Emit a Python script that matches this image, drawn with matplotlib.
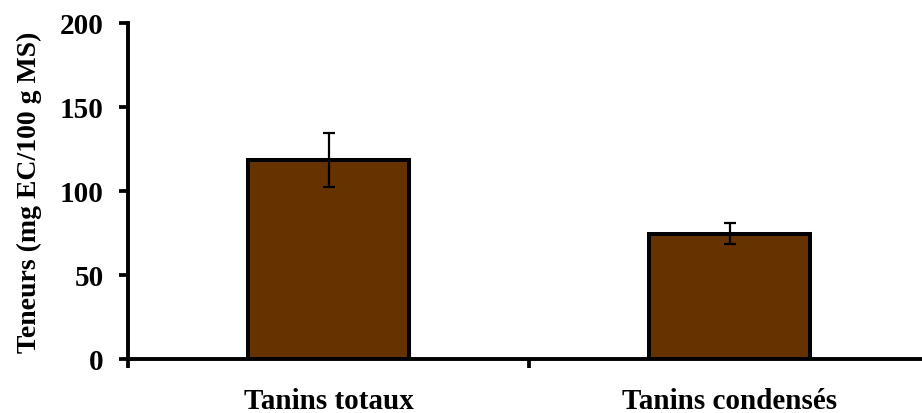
import matplotlib.pyplot as plt
import numpy as np

# données
categories = ["Tanins totaux", "Tanins condensés"]
teneurs = [118.5, 74.7]
erreurs = [16.3, 6.4]

plt.rcParams['font.family'] = ['Liberation Serif', 'DejaVu Serif']
plt.rcParams['font.weight'] = 'bold'

fig = plt.figure(figsize=(9.22, 4.14), dpi=100)
ax = fig.add_axes([128 / 922, 54 / 414, 802 / 922, 336 / 414])

x = np.arange(len(categories))
ax.bar(x, teneurs, width=0.4, color='#663300', edgecolor='black', linewidth=2.9,
       yerr=erreurs, capsize=4.5, error_kw={'elinewidth': 1.6, 'capthick': 1.6, 'ecolor': 'black'},
       zorder=2)

ax.set_xlim(-0.5, 1.5)
ax.set_ylim(0, 200)
ax.set_yticks([0, 50, 100, 150, 200])
ax.set_xticks(x)
ax.set_xticklabels(categories, fontsize=21, fontweight='bold')
ax.set_xticks([-0.5, 0.5, 1.5], minor=True)
ax.tick_params(axis='x', which='major', length=0, pad=20)
ax.tick_params(axis='x', which='minor', length=6.5, width=2.7, direction='out')
ax.tick_params(axis='y', length=6.5, width=2.7, direction='out', labelsize=21, pad=11)
for lab in ax.get_yticklabels():
    lab.set_fontweight('bold')

ax.spines['top'].set_visible(False)
ax.spines['right'].set_visible(False)
ax.spines['left'].set_linewidth(2.8)
ax.spines['bottom'].set_linewidth(2.8)

ax.set_ylabel("Teneurs (mg EC/100 g MS)", fontsize=20, fontweight='bold', labelpad=13)

plt.savefig("out.png", dpi=100)
